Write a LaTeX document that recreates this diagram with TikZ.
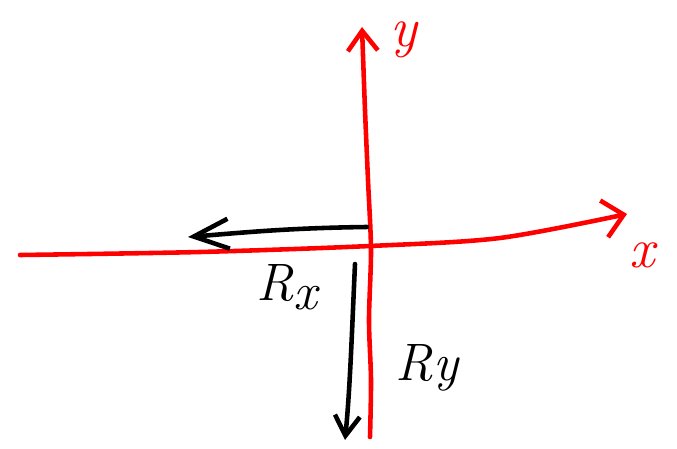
\documentclass[tikz,border=0pt]{standalone}
\usepackage{xcolor}
\usetikzlibrary{arrows.meta, positioning}
\tikzset{every picture/.append style={thick}}

\begin{document}
\begin{tikzpicture}[x=0.02cm, y=-0.02cm, line cap=round, line join=round,
    axis/.style={red, line width=2.6pt},
    force/.style={black, line width=2.6pt},
    lbl/.style={inner sep=0pt, font=\fontsize{30}{36}\selectfont\itshape},
    axlbl/.style={lbl, red, font=\fontsize{32}{38}\selectfont\itshape}]

    \useasboundingbox (0,0) rectangle (677,449);

    % ---------------------------------------------------
    % 1. Axes
    % ---------------------------------------------------
    \draw[axis, -{Straight Barb[length=4mm, width=7.5mm]}]
        plot[smooth, tension=0.5] coordinates {(20,255) (200,252) (370,246) (500,238) (627,214)};
    \draw[axis, -{Straight Barb[length=4mm, width=6mm]}]
        plot[smooth] coordinates {(370,437) (371,380) (369,320) (371,250) (368,180) (365,110) (362,27)};

    \node[axlbl] (ylab) at (404,40) {y};
    \node[axlbl] (xlab) at (642,255) {x};

    % ---------------------------------------------------
    % 2. Reaction forces
    % ---------------------------------------------------
    \coordinate (rxtail) at (367,227);
    \coordinate (rxhead) at (188,237);
    \coordinate (rytail) at (355,264);
    \coordinate (ryhead) at (345,440);

    \draw[force, -{Straight Barb[length=7mm, width=6mm]}]
        (rxtail) .. controls (290,228) and (250,232) .. (rxhead);
    \draw[force, -{Straight Barb[length=4mm, width=5mm]}]
        (rytail) .. controls (352,330) and (350,390) .. (ryhead);

    \node[lbl] (rxlab) at (287,287) {R\raisebox{-5pt}{x}};
    \node[lbl] (rylab) at (427,368) {Ry};

\end{tikzpicture}
\end{document}
